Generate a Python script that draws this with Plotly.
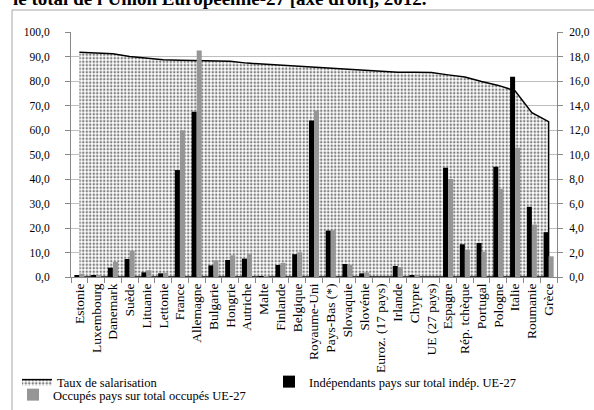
import plotly.graph_objects as go

categories = ["Estonie", "Luxembourg", "Danemark", "Suède", "Lituanie", "Lettonie", "France",
              "Allemagne", "Bulgarie", "Hongrie", "Autriche", "Malte", "Finlande", "Belgique",
              "Royaume-Uni", "Pays-Bas (*)", "Slovaquie", "Slovénie", "Euroz. (17 pays)", "Irlande",
              "Chypre", "UE (27 pays)", "Espagne", "Rép. tchèque", "Portugal", "Pologne", "Italie",
              "Roumanie", "Grèce"]

taux_salarisation = [91.7, 91.3, 91.1, 90.0, 89.2, 88.7, 88.5, 88.4, 88.4, 88.1, 87.3, 86.9, 86.6,
                     85.9, 85.5, 85.3, 84.9, 84.3, 83.9, 83.6, 83.6, 83.5, 82.5, 81.6, 79.8, 78.2,
                     76.0, 67.1, 63.4]

independants = [0.15, 0.1, 0.76, 1.47, 0.38, 0.3, 8.73, 13.5, 0.95, 1.39, 1.5, 0.05, 0.98, 1.86,
                12.77, 3.79, 1.06, 0.3, None, 0.9, 0.15, None, 8.92, 2.67, 2.78, 9.0, 16.34, 5.73, 3.66]

occupes = [0.27, 0.1, 1.23, 2.13, 0.55, 0.35, 11.98, 18.5, 1.36, 1.77, 1.91, 0.08, 1.15, 2.02,
           13.6, 3.82, 1.0, 0.38, None, 0.8, 0.15, None, 8.0, 2.24, 2.07, 7.18, 10.56, 4.28, 1.69]

left_ticks = [0, 10, 20, 30, 40, 50, 60, 70, 80, 90, 100]
right_ticks = [0, 2, 4, 6, 8, 10, 12, 14, 16, 18, 20]

W, H = 594, 410
ML, MR, MT, MB = 71, 37, 32, 133
PW, PH = W - ML - MR, H - MT - MB

def px_to_paper_x(p):
    return (p - ML) / PW

def px_to_paper_y(p):
    return 1 + (MT - p) / PH

SERIF = "Liberation Serif"

fig = go.Figure()

# closed polygon for area (outline on all sides)
area_x = categories + [categories[-1], categories[0]]
area_y = taux_salarisation + [0, 0]
fig.add_trace(go.Scatter(
    x=area_x, y=area_y, name="Taux de salarisation",
    mode="lines", fill="toself", fillcolor="white",
    fillpattern=dict(shape=".", fgcolor="black", bgcolor="white", size=3.5, solidity=0.4),
    line=dict(color="black", width=1.5),
    yaxis="y", hoverinfo="skip", legend="legend",
))

fig.add_trace(go.Bar(
    x=categories, y=independants, name="Indépendants pays sur total indép. UE-27",
    marker=dict(color="black", line=dict(width=0)), yaxis="y2", legend="legend",
))
fig.add_trace(go.Bar(
    x=categories, y=occupes, name="Occupés pays sur total occupés UE-27",
    marker=dict(color="#969696", line=dict(width=0)), yaxis="y2", legend="legend2",
))

legend_font = dict(family=SERIF, size=12.5, color="black")

fig.update_layout(
    width=W, height=H,
    margin=dict(l=ML, r=MR, t=MT, b=MB, autoexpand=False),
    paper_bgcolor="white", plot_bgcolor="white",
    separators=", ",
    font=dict(family=SERIF, color="black", size=12),
    barmode="group", bargap=0.4, bargroupgap=0,
    showlegend=True,
    legend=dict(orientation="h", x=px_to_paper_x(17), xanchor="left",
                y=px_to_paper_y(367), yanchor="top",
                entrywidth=207, entrywidthmode="pixels",
                itemwidth=30, font=legend_font, bgcolor="rgba(0,0,0,0)"),
    legend2=dict(orientation="h", x=px_to_paper_x(13), xanchor="left",
                 y=px_to_paper_y(380), yanchor="top",
                 itemwidth=30, font=legend_font, bgcolor="rgba(0,0,0,0)"),
    xaxis=dict(type="category", range=[-0.5, len(categories) - 0.5],
               tickmode="linear", tick0=0, dtick=1,
               tickangle=-90, tickson="boundaries", ticks="outside", ticklen=5,
               tickcolor="#888888", showline=True, linecolor="#888888", linewidth=1,
               showgrid=False, tickfont=dict(family=SERIF, size=13.5, color="black"),
               fixedrange=True),
    yaxis=dict(range=[0, 100], tickvals=left_ticks, tickformat=".1f",
               ticks="outside", ticklen=5, tickcolor="#888888",
               showline=True, linecolor="#888888", linewidth=1,
               showgrid=True, gridcolor="#bfbfbf", gridwidth=1, zeroline=False,
               tickfont=dict(family=SERIF, size=11.5, color="black"), ticklabelstandoff=13),
    yaxis2=dict(range=[0, 20], tickvals=right_ticks, tickformat=".1f", overlaying="y", side="right",
                ticks="outside", ticklen=5, tickcolor="#888888",
                showline=True, linecolor="#888888", linewidth=1,
                showgrid=False, zeroline=False,
                tickfont=dict(family=SERIF, size=11.5, color="black"), ticklabelstandoff=4),
)

# title (partially cut off at top, as in the reference)
fig.add_annotation(
    text="<b>le total de l'Union Européenne-27 [axe droit], 2012.</b>",
    xref="paper", yref="paper", x=px_to_paper_x(11), xanchor="left",
    y=px_to_paper_y(11), yanchor="bottom", showarrow=False,
    font=dict(family=SERIF, size=19, color="black"),
)

# outer chart frame
fig.add_shape(type="rect", xref="paper", yref="paper",
              x0=px_to_paper_x(12), x1=px_to_paper_x(620),
              y0=px_to_paper_y(10), y1=px_to_paper_y(440),
              line=dict(color="#a6a6a6", width=1), fillcolor="rgba(0,0,0,0)", layer="below")

fig.write_html("out.html", config={"displayModeBar": False},
               post_script="document.body.style.margin='0';document.body.style.overflow='hidden';")
